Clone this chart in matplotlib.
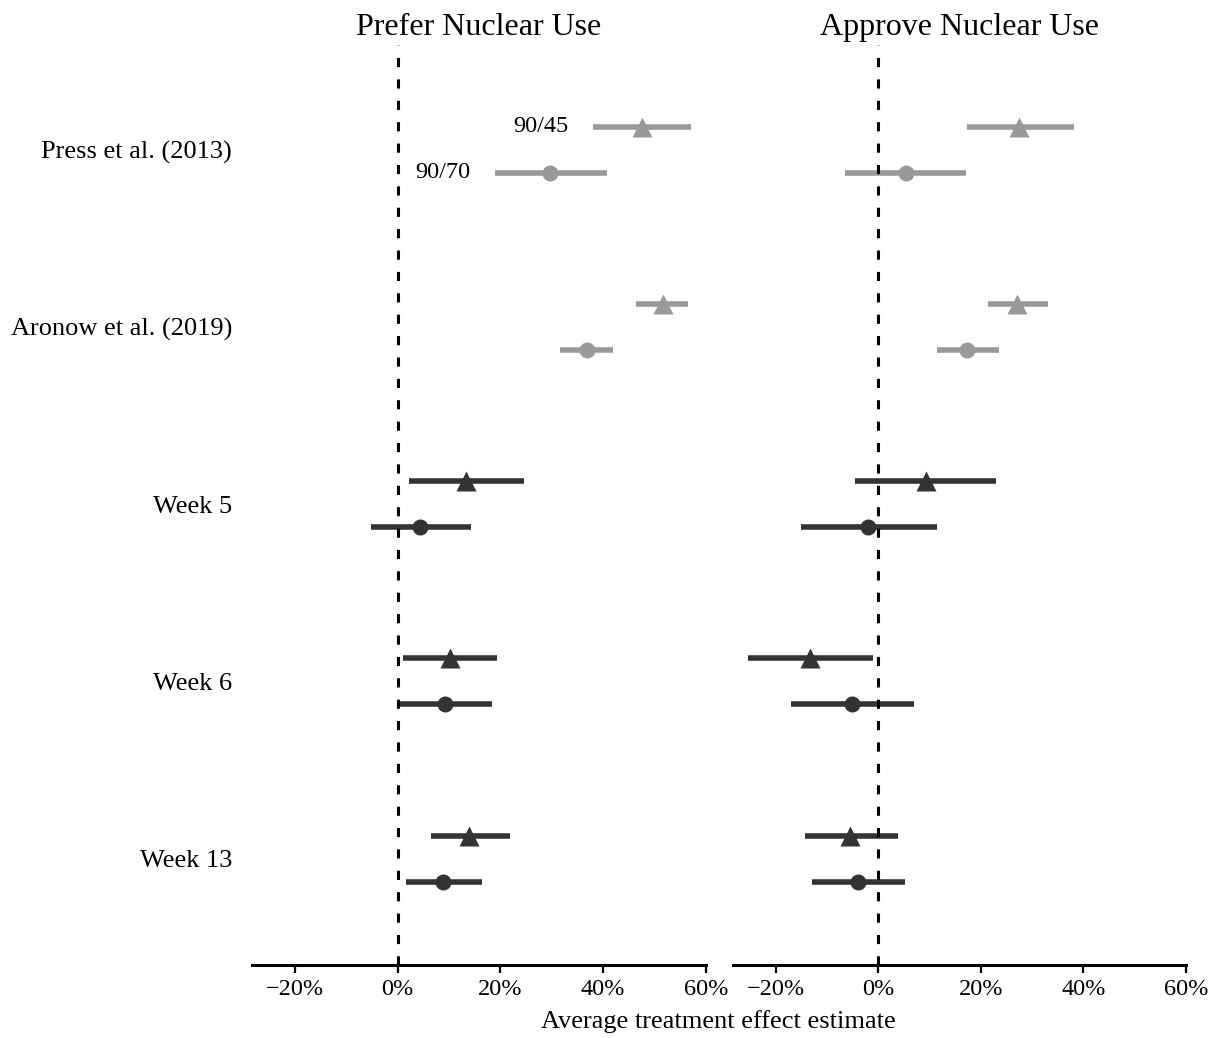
import matplotlib
matplotlib.use("Agg")
import matplotlib.pyplot as plt
from matplotlib.ticker import PercentFormatter

plt.rcParams["font.family"] = ["Liberation Serif", "DejaVu Serif"]

#Study / wave labels (top to bottom)
groups = ["Press et al. (2013)", "Aronow et al. (2019)", "Week 5", "Week 6", "Week 13"]
group_colors = ["#999999", "#999999", "#333333", "#333333", "#333333"]

#Prefer nuclear use: triangle = 90/45, circle = 90/70 (percent)
prefer_tri_est = [47.5, 51.6, 13.4, 10.3, 14.0]
prefer_tri_lo = [38.1, 46.5, 2.3, 1.1, 6.5]
prefer_tri_hi = [57.2, 56.6, 24.7, 19.4, 21.8]
prefer_cir_est = [29.6, 36.8, 4.4, 9.3, 8.9]
prefer_cir_lo = [19.0, 31.7, -5.1, 0.1, 1.7]
prefer_cir_hi = [40.7, 42.0, 14.2, 18.3, 16.5]

#Approve nuclear use
approve_tri_est = [27.5, 27.1, 9.3, -13.3, -5.5]
approve_tri_lo = [17.3, 21.4, -4.5, -25.4, -14.3]
approve_tri_hi = [38.2, 33.1, 23.0, -1.1, 3.8]
approve_cir_est = [5.3, 17.3, -2.0, -5.1, -4.0]
approve_cir_lo = [-6.5, 11.5, -15.1, -17.0, -13.0]
approve_cir_hi = [17.1, 23.6, 11.5, 7.0, 5.2]

tick_vals = [-20, 0, 20, 40, 60]

fig = plt.figure(figsize=(12.2, 10.38), dpi=100)
ax1 = fig.add_axes([0.2063, 0.0703, 0.3722, 0.8863])
ax2 = fig.add_axes([0.6006, 0.0703, 0.3715, 0.8863])

off = 0.13


def draw_panel(ax, title, tri_est, tri_lo, tri_hi, cir_est, cir_lo, cir_hi):
    for i in range(len(groups)):
        c = group_colors[i]
        y_t = i - off
        y_c = i + off
        ax.plot([tri_lo[i], tri_hi[i]], [y_t, y_t], color=c, lw=4, solid_capstyle="butt", zorder=2)
        ax.plot(tri_est[i], y_t, marker="^", ms=14, color=c, mec="none", zorder=4)
        ax.plot([cir_lo[i], cir_hi[i]], [y_c, y_c], color=c, lw=4, solid_capstyle="butt", zorder=2)
        ax.plot(cir_est[i], y_c, marker="o", ms=11.5, color=c, mec="none", zorder=4)

    ax.axvline(0, color="black", lw=2.2, dashes=(3, 4), zorder=3)

    ax.set_xlim(-28.4, 60)
    ax.set_ylim(4.6, -0.59)
    ax.set_xticks(tick_vals)
    ax.xaxis.set_major_formatter(PercentFormatter(100, decimals=0))
    ax.tick_params(axis="x", labelsize=17.5, length=6, width=1.6, pad=4, color="black")

    for s in ["top", "right", "left"]:
        ax.spines[s].set_visible(False)
    ax.spines["bottom"].set_linewidth(2.2)

    ax.set_title(title, fontsize=23, pad=7)


draw_panel(ax1, "Prefer Nuclear Use", prefer_tri_est, prefer_tri_lo, prefer_tri_hi,
           prefer_cir_est, prefer_cir_lo, prefer_cir_hi)
draw_panel(ax2, "Approve Nuclear Use", approve_tri_est, approve_tri_lo, approve_tri_hi,
           approve_cir_est, approve_cir_lo, approve_cir_hi)

#Group labels on the left panel only
ax1.set_yticks(range(len(groups)))
ax1.set_yticklabels(groups, fontsize=19)
ax1.tick_params(axis="y", length=0, pad=14)
ax2.set_yticks([])

#Condition labels for the first study
ax1.annotate("90/45", xy=(prefer_tri_lo[0], -off), xytext=(-18, 0), textcoords="offset points",
             ha="right", va="center", fontsize=17.5)
ax1.annotate("90/70", xy=(prefer_cir_lo[0], off), xytext=(-18, 0), textcoords="offset points",
             ha="right", va="center", fontsize=17.5)

fig.text(0.589, 0.016, "Average treatment effect estimate", ha="center", va="center", fontsize=19)

plt.savefig("out.png", dpi=100)
plt.close()
